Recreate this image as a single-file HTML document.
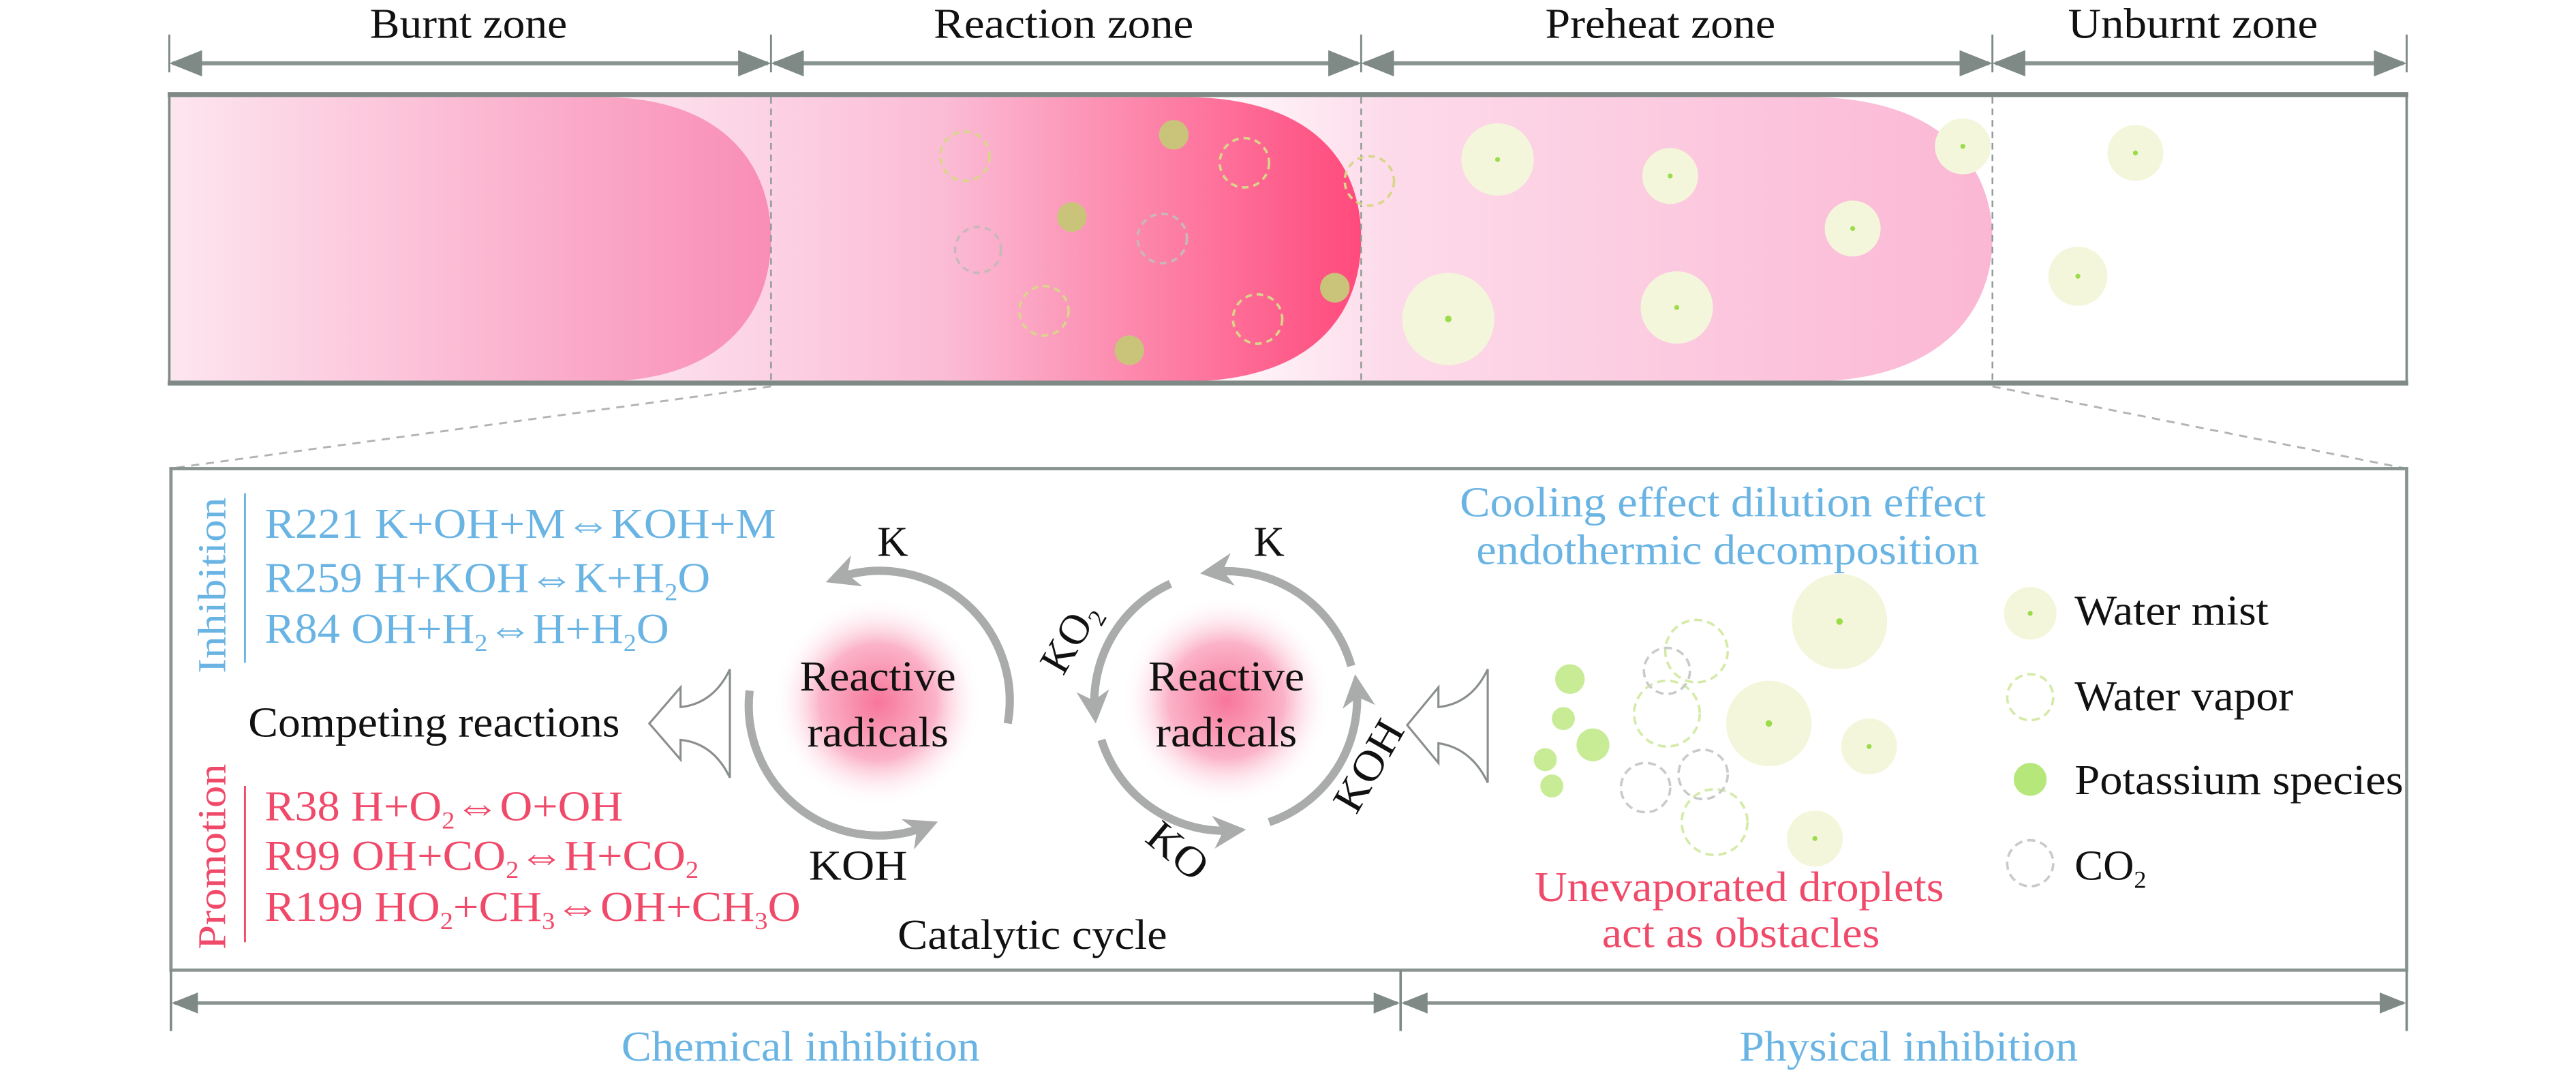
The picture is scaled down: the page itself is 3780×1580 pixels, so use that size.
<!DOCTYPE html>
<html><head><meta charset="utf-8"><style>
html,body{margin:0;padding:0;background:#fff}
svg{display:block}
svg text{font-family:"Liberation Serif","Times New Roman","DejaVu Serif",serif}
</style></head><body>
<svg width="3780" height="1580" viewBox="0 0 1567 655" preserveAspectRatio="none" xmlns="http://www.w3.org/2000/svg" font-family="Liberation Serif, serif">
<defs>
<linearGradient id="gb" x1="0" x2="1"><stop offset="0" stop-color="#fde6f0"/><stop offset="1" stop-color="#f98db5"/></linearGradient>
<linearGradient id="gr" x1="0" x2="1"><stop offset="0" stop-color="#fde6f0"/><stop offset="0.45" stop-color="#fbbbd5"/><stop offset="1" stop-color="#ff4a7c"/></linearGradient>
<linearGradient id="gp" x1="0" x2="1"><stop offset="0" stop-color="#ffffff"/><stop offset="0.25" stop-color="#fddbea"/><stop offset="1" stop-color="#fbb7d4"/></linearGradient>
<radialGradient id="rad"><stop offset="0" stop-color="#f7769a"/><stop offset="0.55" stop-color="#fbb3c9"/><stop offset="1" stop-color="#fff" stop-opacity="0"/></radialGradient>
<marker id="ah" viewBox="0 0 10 10" refX="7" refY="5" markerWidth="4" markerHeight="4" orient="auto"><path d="M0,0 L10,5 L0,10 L3,5 Z" fill="#a9acaa"/></marker>
<marker id="a2" viewBox="0 0 10 10" refX="9" refY="5" markerWidth="8" markerHeight="8" orient="auto-start-reverse"><path d="M0,1 L10,5 L0,9 Z" fill="#7f8a86"/></marker>
</defs>

<!-- top labels -->
<g font-size="26" text-anchor="middle" fill="#111" lengthAdjust="spacingAndGlyphs">
<text x="285" y="23" textLength="120" lengthAdjust="spacingAndGlyphs">Burnt zone</text>
<text x="647" y="23" textLength="158" lengthAdjust="spacingAndGlyphs">Reaction zone</text>
<text x="1010" y="23" textLength="140" lengthAdjust="spacingAndGlyphs">Preheat zone</text>
<text x="1334" y="23" textLength="152" lengthAdjust="spacingAndGlyphs">Unburnt zone</text>
</g>
<g stroke="#7f8a86" stroke-width="1.2">
<line x1="103" y1="21" x2="103" y2="44"/><line x1="469" y1="21" x2="469" y2="44"/><line x1="828" y1="21" x2="828" y2="44"/><line x1="1212" y1="21" x2="1212" y2="44"/><line x1="1464" y1="21" x2="1464" y2="44"/>
</g>
<g stroke="#8a948f" stroke-width="2.5" marker-start="url(#a2)" marker-end="url(#a2)">
<line x1="105" y1="38.5" x2="467" y2="38.5"/><line x1="471" y1="38.5" x2="826" y2="38.5"/><line x1="830" y1="38.5" x2="1210" y2="38.5"/><line x1="1214" y1="38.5" x2="1462" y2="38.5"/>
</g>

<!-- tube -->
<path d="M720 59 L1100 59 C1180 59 1212 100 1212 145 C1212 190 1180 232 1100 232 L720 232 Z" fill="url(#gp)"/>
<path d="M370 59 L720 59 C800 59 828 100 828 145 C828 190 800 232 720 232 L370 232 Z" fill="url(#gr)"/>
<path d="M103 59 L365 59 C440 59 469 100 469 145 C469 190 440 232 365 232 L103 232 Z" fill="url(#gb)"/>
<g stroke="#909896" stroke-width="1" stroke-dasharray="4,3"><line x1="469" y1="59" x2="469" y2="232"/><line x1="828" y1="59" x2="828" y2="232"/><line x1="1212" y1="59" x2="1212" y2="232"/></g>
<rect x="103" y="58" width="1361" height="175" fill="none" stroke="#7f8a86" stroke-width="1.5"/>
<line x1="102" y1="57.5" x2="1465" y2="57.5" stroke="#7f8a86" stroke-width="3"/>
<line x1="102" y1="233" x2="1465" y2="233" stroke="#7f8a86" stroke-width="3"/>

<!-- tube particles -->
<g fill="#c9c47a"><circle cx="714" cy="82" r="9"/><circle cx="652" cy="132" r="9"/><circle cx="687" cy="213" r="9"/><circle cx="812" cy="175" r="9"/></g>
<g fill="none" stroke="#d9d58a" stroke-width="1.5" stroke-dasharray="4,3"><circle cx="587" cy="95" r="15"/><circle cx="757" cy="99" r="15"/><circle cx="635" cy="189" r="15"/><circle cx="765" cy="194" r="15"/><circle cx="833" cy="110" r="15"/></g>
<g fill="none" stroke="#c8b8b8" stroke-width="1.5" stroke-dasharray="4,3"><circle cx="595" cy="152" r="14"/><circle cx="707" cy="145" r="15"/></g>
<g fill="#f4f6dc"><circle cx="881" cy="194" r="28"/><circle cx="1020" cy="187" r="22"/><circle cx="911" cy="97" r="22"/><circle cx="1016" cy="107" r="17"/><circle cx="1127" cy="139" r="17"/><circle cx="1194" cy="89" r="17"/><circle cx="1299" cy="93" r="17"/><circle cx="1264" cy="168" r="18"/></g>
<g fill="#9adc4a"><circle cx="881" cy="194" r="2"/><circle cx="1020" cy="187" r="1.5"/><circle cx="911" cy="97" r="1.5"/><circle cx="1016" cy="107" r="1.5"/><circle cx="1127" cy="139" r="1.5"/><circle cx="1194" cy="89" r="1.5"/><circle cx="1299" cy="93" r="1.5"/><circle cx="1264" cy="168" r="1.5"/></g>

<!-- zoom lines -->
<g stroke="#b0b4b2" stroke-width="1.2" stroke-dasharray="5,4"><line x1="469" y1="235" x2="103" y2="285"/><line x1="1212" y1="235" x2="1464" y2="285"/></g>

<!-- bottom box -->
<rect x="104" y="285" width="1360" height="305" fill="none" stroke="#8a948f" stroke-width="2"/>
<g stroke="#7f8a86" stroke-width="1.5"><line x1="104" y1="590" x2="104" y2="627"/><line x1="852" y1="590" x2="852" y2="627"/><line x1="1464" y1="590" x2="1464" y2="627"/></g>
<g stroke="#8a948f" stroke-width="2" marker-start="url(#a2)" marker-end="url(#a2)"><line x1="106" y1="610" x2="850" y2="610"/><line x1="854" y1="610" x2="1462" y2="610"/></g>
<g font-size="26" text-anchor="middle" fill="#6ab4e4"><text x="487" y="645" textLength="218" lengthAdjust="spacingAndGlyphs">Chemical inhibition</text><text x="1161" y="645" textLength="206" lengthAdjust="spacingAndGlyphs">Physical inhibition</text></g>

<!-- left text -->
<text transform="translate(137,356) rotate(-90)" font-size="24" text-anchor="middle" fill="#6ab4e4" textLength="107" lengthAdjust="spacingAndGlyphs">Inhibition</text>
<line x1="149" y1="300" x2="149" y2="403" stroke="#6ab4e4" stroke-width="1.2"/>
<g font-size="26" fill="#6ab4e4">
<text x="161" y="327" textLength="311" lengthAdjust="spacingAndGlyphs">R221 K+OH+M⇔KOH+M</text>
<text x="161" y="360" textLength="271" lengthAdjust="spacingAndGlyphs">R259 H+KOH⇔K+H<tspan font-size="15" dy="5">2</tspan><tspan dy="-5">O</tspan></text>
<text x="161" y="391" textLength="246" lengthAdjust="spacingAndGlyphs">R84 OH+H<tspan font-size="15" dy="5">2</tspan><tspan dy="-5">⇔H+H</tspan><tspan font-size="15" dy="5">2</tspan><tspan dy="-5">O</tspan></text>
</g>
<text x="151" y="448" font-size="26" fill="#111" textLength="226" lengthAdjust="spacingAndGlyphs">Competing reactions</text>
<text transform="translate(137,521) rotate(-90)" font-size="24" text-anchor="middle" fill="#f04a6a" textLength="113" lengthAdjust="spacingAndGlyphs">Promotion</text>
<line x1="149" y1="478" x2="149" y2="573" stroke="#f04a6a" stroke-width="1.2"/>
<g font-size="26" fill="#f04a6a">
<text x="161" y="499" textLength="218" lengthAdjust="spacingAndGlyphs">R38 H+O<tspan font-size="15" dy="5">2</tspan><tspan dy="-5">⇔O+OH</tspan></text>
<text x="161" y="529" textLength="264" lengthAdjust="spacingAndGlyphs">R99 OH+CO<tspan font-size="15" dy="5">2</tspan><tspan dy="-5">⇔H+CO</tspan><tspan font-size="15" dy="5">2</tspan></text>
<text x="161" y="560" textLength="326" lengthAdjust="spacingAndGlyphs">R199 HO<tspan font-size="15" dy="5">2</tspan><tspan dy="-5">+CH</tspan><tspan font-size="15" dy="5">3</tspan><tspan dy="-5">⇔OH+CH</tspan><tspan font-size="15" dy="5">3</tspan><tspan dy="-5">O</tspan></text>
</g>

<!-- hollow arrows -->
<path d="M444 407 L444 473 Q434 452 414 450 L414 462 L395 440 L414 418 L414 430 Q434 428 444 407 Z" fill="#fff" stroke="#8a8f8d" stroke-width="1.3"/>
<path d="M905 407 L905 476 Q895 455 875 452 L875 464 L856 441 L875 418 L875 430 Q895 428 905 407 Z" fill="#fff" stroke="#8a8f8d" stroke-width="1.3"/>

<!-- cycles -->
<circle cx="534" cy="427" r="64" fill="url(#rad)"/>
<circle cx="746" cy="426" r="64" fill="url(#rad)"/>
<g fill="none" stroke="#a9acaa" stroke-width="5" marker-end="url(#ah)">
<path d="M613 440 A79 79 0 0 0 508 352"/>
<path d="M456 420 A79 79 0 0 0 565 502"/>
<path d="M822 405 A79 79 0 0 0 736 348"/>
<path d="M712 355 A79 79 0 0 0 666 434"/>
<path d="M670 450 A79 79 0 0 0 752 505"/>
<path d="M772 500 A79 79 0 0 0 825 416"/>
</g>
<g font-size="26" text-anchor="middle" fill="#111">
<text x="534" y="420" textLength="95" lengthAdjust="spacingAndGlyphs">Reactive</text><text x="534" y="454" textLength="86" lengthAdjust="spacingAndGlyphs">radicals</text>
<text x="746" y="420" textLength="95" lengthAdjust="spacingAndGlyphs">Reactive</text><text x="746" y="454" textLength="86" lengthAdjust="spacingAndGlyphs">radicals</text>
<text x="543" y="338">K</text>
<text x="772" y="338">K</text>
<text x="522" y="535" textLength="60" lengthAdjust="spacingAndGlyphs">KOH</text>
<text transform="translate(711,524) rotate(40)" textLength="40" lengthAdjust="spacingAndGlyphs">KO</text>
<text transform="translate(658,392) rotate(-60)">KO<tspan font-size="15" dy="5">2</tspan></text>
<text transform="translate(840,470) rotate(-60)" textLength="60" lengthAdjust="spacingAndGlyphs">KOH</text>
<text x="628" y="577" textLength="164" lengthAdjust="spacingAndGlyphs">Catalytic cycle</text>
</g>

<!-- physical -->
<g font-size="26" text-anchor="middle" fill="#6ab4e4"><text x="1048" y="314" textLength="320" lengthAdjust="spacingAndGlyphs">Cooling effect dilution effect</text><text x="1051" y="343" textLength="306" lengthAdjust="spacingAndGlyphs">endothermic decomposition</text></g>
<g font-size="26" text-anchor="middle" fill="#f04a6a"><text x="1058" y="548" textLength="249" lengthAdjust="spacingAndGlyphs">Unevaporated droplets</text><text x="1059" y="576" textLength="169" lengthAdjust="spacingAndGlyphs">act as obstacles</text></g>

<g fill="#f4f6dc"><circle cx="1119" cy="378" r="29"/><circle cx="1076" cy="440" r="26"/><circle cx="1137" cy="454" r="17"/><circle cx="1104" cy="510" r="17"/><circle cx="1235" cy="373" r="16"/></g>
<g fill="#9adc4a"><circle cx="1119" cy="378" r="2"/><circle cx="1076" cy="440" r="2"/><circle cx="1137" cy="454" r="1.5"/><circle cx="1104" cy="510" r="1.5"/><circle cx="1235" cy="373" r="1.5"/></g>
<g fill="#c7ec95"><circle cx="955" cy="413" r="9"/><circle cx="951" cy="437" r="7"/><circle cx="969" cy="453" r="10"/><circle cx="940" cy="462" r="7"/><circle cx="944" cy="478" r="7"/><circle cx="1235" cy="474" r="10" fill="#b6e77a"/></g>
<g fill="none" stroke="#d4eba8" stroke-width="1.5" stroke-dasharray="5,3"><circle cx="1032" cy="396" r="19"/><circle cx="1014" cy="434" r="20"/><circle cx="1043" cy="500" r="20"/><circle cx="1235" cy="424" r="14"/></g>
<g fill="none" stroke="#c9cbcb" stroke-width="1.5" stroke-dasharray="5,3"><circle cx="1014" cy="408" r="14"/><circle cx="1001" cy="479" r="15"/><circle cx="1036" cy="471" r="15"/><circle cx="1235" cy="525" r="14"/></g>
<g font-size="26" fill="#111">
<text x="1262" y="380" textLength="118" lengthAdjust="spacingAndGlyphs">Water mist</text>
<text x="1262" y="432" textLength="133" lengthAdjust="spacingAndGlyphs">Water vapor</text>
<text x="1262" y="483" textLength="200" lengthAdjust="spacingAndGlyphs">Potassium species</text>
<text x="1262" y="535">CO<tspan font-size="15" dy="5">2</tspan></text>
</g>
</svg>
</body></html>
